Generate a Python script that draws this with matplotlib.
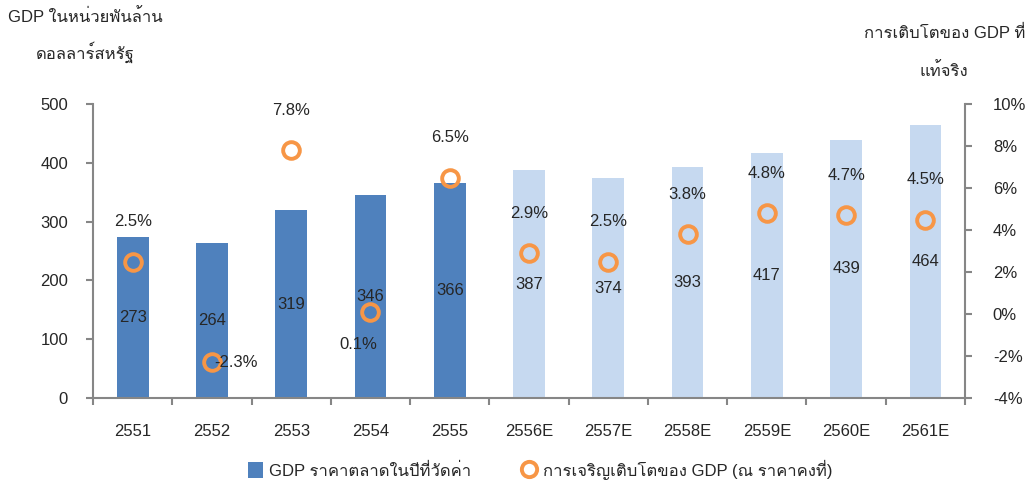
import matplotlib
matplotlib.use("Agg")
import matplotlib.pyplot as plt
from matplotlib import font_manager
from matplotlib.ft2font import FT2Font
from matplotlib.patches import Patch
from matplotlib.lines import Line2D
import numpy as np

years = ['2551', '2552', '2553', '2554', '2555', '2556E', '2557E', '2558E', '2559E', '2560E', '2561E']
gdp = [273, 264, 319, 346, 366, 387, 374, 393, 417, 439, 464]
growth = [2.5, -2.3, 7.8, 0.1, 6.5, 2.9, 2.5, 3.8, 4.8, 4.7, 4.5]
n_actual = 5

# look for an installed font that has Thai glyphs
thai_fonts = []
for f in font_manager.fontManager.ttflist:
    try:
        ft = FT2Font(f.fname)
        if ft.get_char_index(0x0E01) and f.name not in thai_fonts:
            thai_fonts.append(f.name)
    except Exception:
        pass
plt.rcParams['font.family'] = ['Liberation Sans'] + thai_fonts[:1] + ['DejaVu Sans']

txt = '#262626'
spine = '#868686'
dark = '#4F81BD'
light = '#C6D9F0'
orange = '#F79646'
fs = 12

fig = plt.figure(figsize=(10.29, 4.84), dpi=100)
ax = fig.add_axes([0.0904, 0.1777, 0.8474, 0.6074])
ax2 = ax.twinx()

x = np.arange(len(years))
colors = [dark] * n_actual + [light] * (len(years) - n_actual)
ax.bar(x, gdp, width=0.4, color=colors, zorder=2)
for i in range(len(years)):
    ax.text(x[i], gdp[i] / 2, str(gdp[i]), ha='center', va='center', fontsize=fs, color=txt, zorder=5)

ax2.plot(x, growth, 'o', ms=12, mfc='none', mec=orange, mew=2.8, zorder=4)
# label offsets (x in categories, y in %)
offsets = {1: (0.30, 0), 3: (-0.15, -1.57)}
for i in range(len(years)):
    dx, dy = offsets.get(i, (0, 1.9))
    ax2.text(x[i] + dx, growth[i] + dy, '%.1f%%' % growth[i], ha='center', va='center',
             fontsize=fs, color=txt, zorder=5)

ax.set_xlim(-0.5, len(years) - 0.5)
ax.set_ylim(0, 500)
ax.set_yticks(range(0, 501, 100))
ax2.set_ylim(-4, 10)
ax2.set_yticks(range(-4, 11, 2))
ax2.set_yticklabels(['%d%%' % v for v in range(-4, 11, 2)])

ax.set_xticks(x)
ax.set_xticklabels(years)
ax.tick_params(axis='x', which='major', length=0, pad=19, labelsize=fs, labelcolor=txt)
ax.set_xticks(np.arange(-0.5, len(years), 1), minor=True)
ax.tick_params(axis='x', which='minor', length=5, direction='out', color=spine, width=1.5)

ax.tick_params(axis='y', length=5, width=1.5, color=spine, labelsize=fs, labelcolor=txt, pad=13)
ax2.tick_params(axis='y', length=5, width=1.5, color=spine, labelsize=fs, labelcolor=txt, pad=15)
for a in (ax, ax2):
    a.spines['top'].set_visible(False)
    for s in ('left', 'right', 'bottom'):
        a.spines[s].set_color(spine)
        a.spines[s].set_linewidth(1.5)
ax.spines['right'].set_visible(False)
ax2.spines['left'].set_visible(False)
ax2.spines['bottom'].set_visible(False)

fig.text(0.008, 0.965, 'GDP ในหน่วยพันล้าน', fontsize=fs, color=txt, va='center')
fig.text(0.035, 0.893, 'ดอลลาร์สหรัฐ', fontsize=fs, color=txt, va='center')
fig.text(0.996, 0.932, 'การเติบโตของ GDP ที่', fontsize=fs, color=txt, va='center', ha='right')
fig.text(0.917, 0.855, 'แท้จริง', fontsize=fs, color=txt, va='center', ha='center')

handles = [Patch(facecolor=dark, edgecolor='none'),
           Line2D([], [], marker='o', ls='none', ms=11, mfc='none', mec=orange, mew=2.8)]
labels = ['GDP ราคาตลาดในปีที่วัดค่า', 'การเจริญเติบโตของ GDP (ณ ราคาคงที่)']
fig.legend(handles, labels, loc='center', bbox_to_anchor=(0.525, 0.03), ncol=2, frameon=False,
           fontsize=fs, handlelength=0.9, handleheight=1.1, columnspacing=3.0, handletextpad=0.4,
           labelcolor=txt)

fig.savefig('out.png', dpi=100)
